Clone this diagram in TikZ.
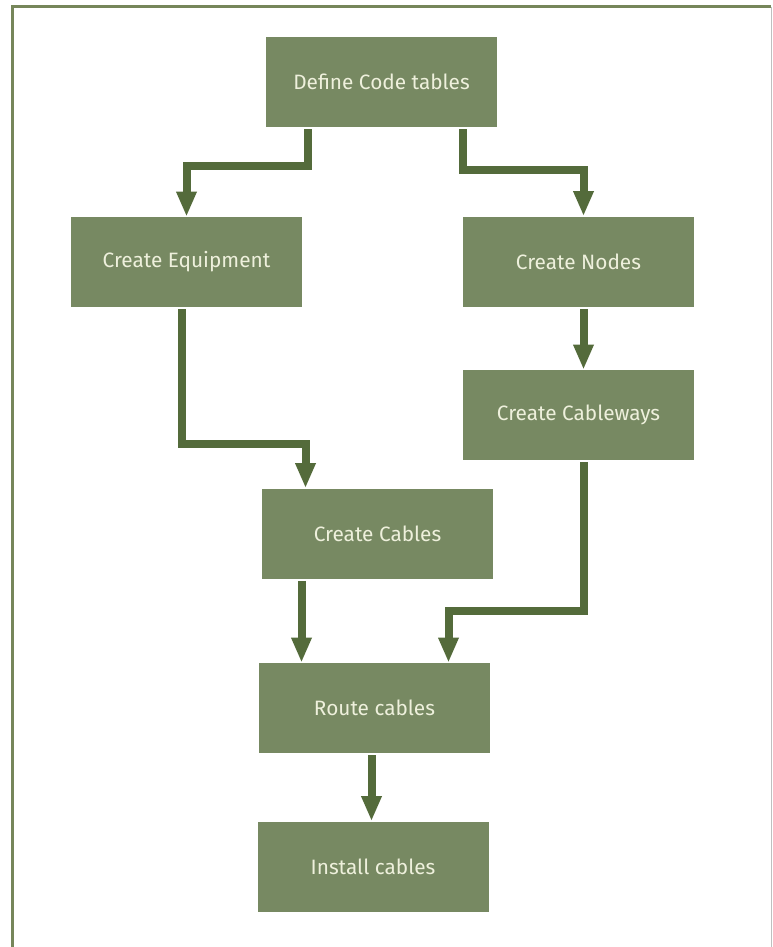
\documentclass[tikz,border=0pt]{standalone}
\usepackage{fontspec}
\setmainfont{Fira Sans}
\usetikzlibrary{positioning}
\usetikzlibrary{arrows.meta}

\definecolor{boxgreen}{HTML}{778962}
\definecolor{arrowgreen}{HTML}{546B3B}
\definecolor{framegreen}{HTML}{76865A}
\definecolor{labelcream}{HTML}{EEF0DC}

\tikzset{
  stepbox/.style={fill=boxgreen, text=labelcream, minimum width=115.5pt,
    minimum height=45pt, inner sep=0pt, font=\fontsize{10.4}{12}\selectfont},
  flow/.style={draw=arrowgreen, line width=4pt,
    -{Triangle[width=9.5pt,length=12.5pt]}}
}

\begin{document}
\begin{tikzpicture}[x=0.5pt,y=-0.5pt]
\useasboundingbox (0,0) rectangle (772,947);
% page frame
\draw[framegreen, line width=1.5pt] (12,947) -- (12,7) -- (771,7);
\draw[black!25, line width=0.5pt] (771,7) -- (771,947);

\node[stepbox](def) at (381.5,82){Define Code tables};
\node[stepbox](equip) at (186.5,262){Create Equipment};
\node[stepbox](nodes) at (578.5,261.5){Create Nodes};
\node[stepbox](ways) at (578.5,415){Create Cableways};
\node[stepbox](cables) at (377.5,533.5){Create Cables};
\node[stepbox](route) at (374.5,708){Route cables};
\node[stepbox](install) at (373,866.5){Install cables};

\draw[flow] ([xshift=-37pt,yshift=-1pt]def.south) -- ++(0,37) -| (equip.north);
\draw[flow] ([xshift=40.5pt,yshift=-1pt]def.south) -- ++(0,41) -| ([xshift=2.5pt]nodes.north);
\draw[flow] ([xshift=2.5pt,yshift=-1pt]nodes.south) -- ([xshift=2.5pt]ways.north);
\draw[flow] ([xshift=-2.5pt,yshift=-1pt]equip.south) -- ++(0,135) -| ([xshift=-36pt]cables.north);
\draw[flow] ([xshift=2.5pt,yshift=-1pt]ways.south) -- ++(0,149) -| ([xshift=37pt]route.north);
\draw[flow] ([xshift=-38pt,yshift=-1pt]cables.south) -- ([xshift=-36.5pt]route.north);
\draw[flow] ([xshift=-1.5pt,yshift=-1pt]route.south) -- ([xshift=-0.75pt]install.north);
\end{tikzpicture}
\end{document}
